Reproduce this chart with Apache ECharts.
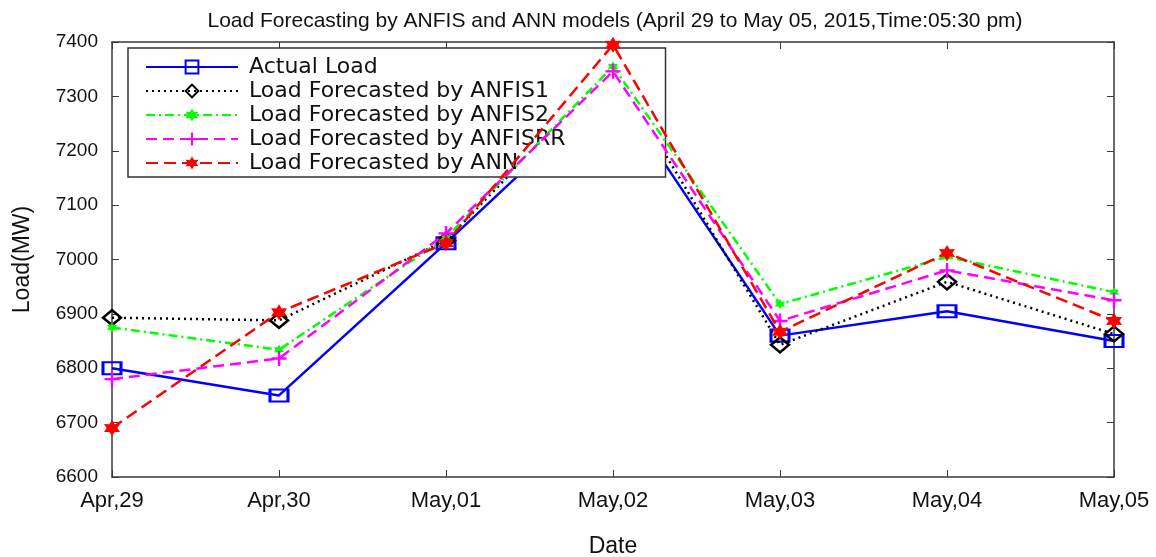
<!DOCTYPE html>
<html>
<head>
<meta charset="utf-8">
<script src="https://cdn.jsdelivr.net/npm/echarts@6/dist/echarts.min.js"></script>
<style>
  html, body { margin: 0; padding: 0; background: #fff; }
  #chart { width: 1156px; height: 557px; }
</style>
</head>
<body>
<div id="chart"></div>
<script>
// categories and values
const dates = ['Apr,29', 'Apr,30', 'May,01', 'May,02', 'May,03', 'May,04', 'May,05']
const actualLoad = [6800, 6750, 7030, 7318, 6860, 6905, 6850]
const anfis1 = [6893, 6888, 7035, 7353, 6843, 6959, 6863]
const anfis2 = [6875, 6834, 7040, 7355, 6918, 7005, 6940]
const anfisRR = [6780, 6818, 7048, 7346, 6887, 6980, 6925]
const ann = [6690, 6903, 7030, 7395, 6867, 7012, 6887]
const yMin = 6600
const yMax = 7400
const yStep = 100

const starPath = 'path://M5,0 L6.4,2.6 L9.3,2.5 L7.9,5 L9.3,7.5 L6.4,7.4 L5,10 L3.6,7.4 L0.7,7.5 L2.1,5 L0.7,2.5 L3.6,2.6 Z'
const plusPath = 'path://M4.2,0H5.8V4.2H10V5.8H5.8V10H4.2V5.8H0V4.2H4.2Z'
const axisColor = '#3a3a3a'
const font = 'Liberation Sans, Arial, sans-serif'

const chart = echarts.init(document.getElementById('chart'))

const options = {
  backgroundColor: '#fff',
  animation: false,
  title: {
    text: 'Load Forecasting by ANFIS and ANN models (April 29 to May 05, 2015,Time:05:30 pm)',
    left: 610,
    top: 6,
    textAlign: 'center',
    textStyle: {
      fontFamily: font,
      fontSize: 21,
      fontWeight: 'normal',
      color: '#111'
    }
  },
  legend: {
    orient: 'vertical',
    left: 128,
    top: 48,
    padding: [8, 100, 3, 17],
    itemWidth: 92,
    itemHeight: 16,
    itemGap: 2,
    borderColor: '#333',
    borderWidth: 1.5,
    backgroundColor: '#fff',
    selectedMode: false,
    textStyle: {
      fontFamily: 'DejaVu Sans, sans-serif',
      fontSize: 22,
      lineHeight: 16,
      color: '#111',
      padding: [0, 0, 0, 6]
    },
    data: ['Actual Load', 'Load Forecasted by ANFIS1', 'Load Forecasted by ANFIS2',
      'Load Forecasted by ANFISRR', 'Load Forecasted by ANN']
  },
  grid: {
    left: 112,
    right: 42,
    top: 42,
    bottom: 80,
    outerBoundsMode: 'none'
  },
  xAxis: [
    {
      type: 'category',
      data: dates,
      boundaryGap: false,
      name: 'Date',
      nameLocation: 'middle',
      nameGap: 58,
      nameTextStyle: { fontFamily: font, fontSize: 23, color: '#111' },
      axisLine: { lineStyle: { color: axisColor, width: 1.5 } },
      axisTick: { inside: true, length: 7, lineStyle: { color: axisColor } },
      axisLabel: { margin: 13, fontFamily: font, fontSize: 22, color: '#111' },
      splitLine: { show: false }
    },
    {
      type: 'category',
      data: dates,
      boundaryGap: false,
      position: 'top',
      axisLine: { lineStyle: { color: axisColor, width: 1.5 } },
      axisTick: { inside: true, length: 7, lineStyle: { color: axisColor } },
      axisLabel: { show: false },
      splitLine: { show: false }
    }
  ],
  yAxis: [
    {
      type: 'value',
      min: yMin,
      max: yMax,
      interval: yStep,
      name: 'Load(MW)',
      nameLocation: 'middle',
      nameRotate: 90,
      nameGap: 78,
      nameTextStyle: { fontFamily: font, fontSize: 23, color: '#111' },
      axisLine: { show: true, lineStyle: { color: axisColor, width: 1.5 } },
      axisTick: { show: true, inside: true, length: 7, lineStyle: { color: axisColor } },
      axisLabel: {
        margin: 14,
        fontFamily: font,
        fontSize: 19,
        color: '#111',
        formatter: (v) => String(v)
      },
      splitLine: { show: false }
    },
    {
      type: 'value',
      min: yMin,
      max: yMax,
      interval: yStep,
      position: 'right',
      axisLine: { show: true, lineStyle: { color: axisColor, width: 1.5 } },
      axisTick: { show: true, inside: true, length: 7, lineStyle: { color: axisColor } },
      axisLabel: { show: false },
      splitLine: { show: false }
    }
  ],
  series: [
    {
      name: 'Actual Load',
      type: 'line',
      data: actualLoad,
      symbol: 'rect',
      symbolSize: [18, 12],
      lineStyle: { color: '#0000ff', width: 2.5, type: 'solid' },
      itemStyle: { color: 'rgba(255,255,255,0)', borderColor: '#0000ff', borderWidth: 2.5 },
      z: 2
    },
    {
      name: 'Load Forecasted by ANFIS1',
      type: 'line',
      data: anfis1,
      symbol: 'diamond',
      symbolSize: [18, 15],
      lineStyle: { color: '#000', width: 2.5, type: [2, 4] },
      itemStyle: { color: 'rgba(255,255,255,0)', borderColor: '#000', borderWidth: 2.5 },
      z: 3
    },
    {
      name: 'Load Forecasted by ANFIS2',
      type: 'line',
      data: anfis2,
      symbol: starPath,
      symbolSize: 10,
      lineStyle: { color: '#00ff00', width: 2.5, type: [9, 4, 2, 4] },
      itemStyle: { color: '#00ff00', borderWidth: 0 },
      z: 4
    },
    {
      name: 'Load Forecasted by ANFISRR',
      type: 'line',
      data: anfisRR,
      symbol: plusPath,
      symbolSize: 15,
      lineStyle: { color: '#ff00ff', width: 2.5, type: [11, 6] },
      itemStyle: { color: '#ff00ff', borderWidth: 0 },
      z: 5
    },
    {
      name: 'Load Forecasted by ANN',
      type: 'line',
      data: ann,
      symbol: starPath,
      symbolSize: 16,
      lineStyle: { color: '#ff0000', width: 2.5, type: [12, 6] },
      itemStyle: { color: '#ff0000', borderWidth: 0 },
      z: 6
    }
  ]
}

chart.setOption(options)
</script>
</body>
</html>
